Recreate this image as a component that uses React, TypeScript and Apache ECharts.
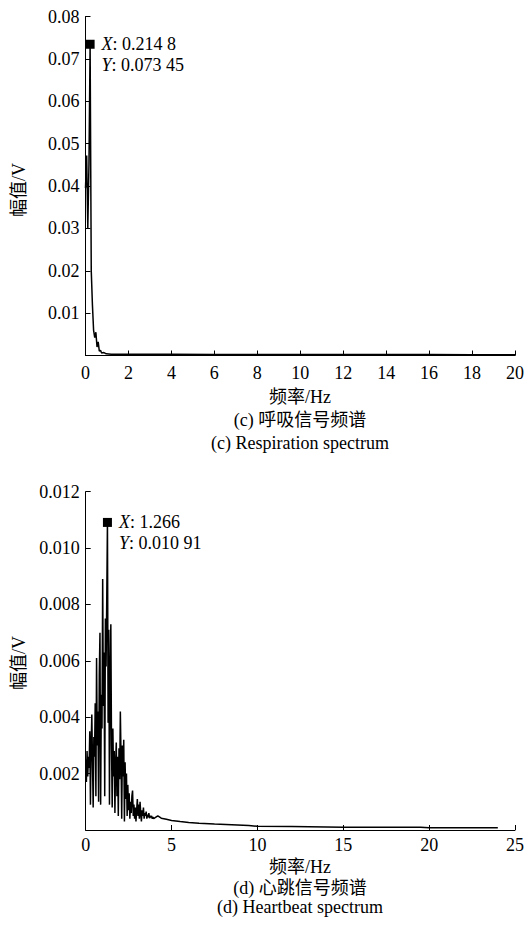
import React, { useEffect, useRef } from "react";
import * as echarts from "echarts";

// ---- Respiration spectrum (c) ----
const respFreq = [0, 0.054, 0.107, 0.161, 0.2148, 0.268, 0.322, 0.376, 0.43, 0.483, 0.537, 0.591, 0.644, 0.698, 0.752, 0.859, 0.967, 1.2, 2, 4, 6, 8, 10, 12, 14, 16, 18, 20];
const respAmp = [0.0395, 0.0472, 0.03, 0.045, 0.07345, 0.02, 0.012, 0.006, 0.0042, 0.0055, 0.002, 0.0032, 0.001, 0.0012, 0.0006, 0.0007, 0.0004, 0.0003, 0.0003, 0.00028, 0.00026, 0.00025, 0.00024, 0.00023, 0.00022, 0.00021, 0.0002, 0.0002];
const respPeak = [0.2148, 0.07345];
const respTip = ["0.214 8", "0.073 45"];

// ---- Heartbeat spectrum (d) ----
const heartStep = 0.03956; // frequency bin width (Hz)
const heartAmpLow = [
  0.0025, 0.0017, 0.0028, 0.0019, 0.0026, 0.0022, 0.0035, 0.0009, 0.003, 0.0041,
  0.0024, 0.0008, 0.0033, 0.0026, 0.0045, 0.0012, 0.0061, 0.003, 0.0042, 0.001,
  0.0055, 0.007, 0.0009, 0.0048, 0.0036, 0.0089, 0.0044, 0.0063, 0.0012, 0.0075,
  0.0058, 0.0082, 0.01091, 0.0038, 0.0071, 0.0009, 0.0054, 0.0073, 0.003, 0.0008,
  0.0036, 0.0019, 0.0028, 0.0006, 0.0023, 0.0031, 0.0012, 0.0026, 0.0005, 0.0029,
  0.0018, 0.0042, 0.0026, 0.0004, 0.003, 0.0019, 0.0032, 0.0003, 0.0024, 0.0011,
  0.002, 0.0005, 0.0016, 0.0007, 0.0013, 0.0004, 0.001, 0.0006, 0.0012, 0.0014,
  0.0005, 0.0009, 0.0004, 0.0008, 0.0003, 0.0007, 0.0011, 0.0005, 0.0009, 0.0004,
  0.001, 0.0006, 0.0003, 0.0007, 0.0005, 0.0008, 0.0004, 0.0006, 0.0005, 0.00065,
  0.0004, 0.00055, 0.00045, 0.0006, 0.00042, 0.0005, 0.00045, 0.0005, 0.0004, 0.00046,
  0.0004,
];
const heartTailFreq = [4.2, 4.4, 4.7, 5.0, 5.5, 6.0, 6.6, 7.5, 8.5, 9.5, 10.0, 12, 14, 15, 17, 19.5, 20, 24];
const heartTailAmp = [0.0005, 0.00042, 0.00038, 0.00034, 0.0003, 0.00027, 0.00024, 0.00021, 0.00019, 0.00016, 0.00013, 0.00012, 0.00011, 0.0001, 0.0001, 0.0001, 0.00008, 0.00008];
const heartPeak = [1.266, 0.01091];
const heartTip = ["1.266", "0.010 91"];

const FONT = "'Liberation Serif', 'Times New Roman', 'Noto Sans CJK SC', serif";

export default function App() {
  const ref = useRef<HTMLDivElement>(null);
  useEffect(() => {
    if (!ref.current) return;
    const chart = echarts.init(ref.current, undefined, { renderer: "svg" });
    const respData = respFreq.map((f, i) => [f, respAmp[i]]);
    const heartData = heartAmpLow
      .map((a, i) => [Number((i * heartStep).toFixed(4)), a])
      .concat(heartTailFreq.map((f, i) => [f, heartTailAmp[i]]));

    const axisCommon = {
      axisLine: { show: true, onZero: false, lineStyle: { color: "#000", width: 1 } },
      axisTick: { show: true, inside: true, length: 5, lineStyle: { color: "#000" } },
      splitLine: { show: false },
      axisLabel: { color: "#000", fontSize: 18, fontFamily: FONT },
    };

    const tip = (vals: string[]) => ({
      symbol: "rect",
      symbolSize: 9,
      itemStyle: { color: "#000" },
      label: {
        show: true,
        position: [16, -6],
        color: "#000",
        fontSize: 18,
        fontFamily: FONT,
        lineHeight: 21,
        formatter: `{i|X}: ${vals[0]}\n{i|Y}: ${vals[1]}`,
        rich: { i: { fontStyle: "italic", fontSize: 18, fontFamily: FONT, lineHeight: 21, color: "#000" } },
      },
    });

    const txt = (x: number, y: number, t: string, rot = 0) => ({
      type: "text",
      x,
      y,
      rotation: rot,
      style: { text: t, fill: "#000", fontSize: 18, fontFamily: FONT, align: "center", verticalAlign: "middle" },
    });

    chart.setOption({
      animation: false,
      grid: [
        { left: 85.5, top: 16.5, width: 432, height: 339 },
        { left: 85.7, top: 491.7, width: 432, height: 338.3 },
      ],
      xAxis: [
        { ...axisCommon, type: "value", gridIndex: 0, min: 0, max: 20, interval: 2, axisLabel: { ...axisCommon.axisLabel, margin: 8 } },
        { ...axisCommon, type: "value", gridIndex: 1, min: 0, max: 25, interval: 5, axisLabel: { ...axisCommon.axisLabel, margin: 6 } },
      ],
      yAxis: [
        {
          ...axisCommon, type: "value", gridIndex: 0, min: 0, max: 0.08, interval: 0.01,
          axisLabel: { ...axisCommon.axisLabel, margin: 6, formatter: (v: number) => (v === 0 ? "" : v.toFixed(2)) },
        },
        {
          ...axisCommon, type: "value", gridIndex: 1, min: 0, max: 0.012, interval: 0.002,
          axisLabel: { ...axisCommon.axisLabel, margin: 6, formatter: (v: number) => (v === 0 ? "" : v.toFixed(3)) },
        },
      ],
      series: [
        {
          type: "line", xAxisIndex: 0, yAxisIndex: 0, data: respData, showSymbol: false,
          lineStyle: { color: "#000", width: 1.5 },
          markPoint: { ...tip(respTip), data: [{ coord: respPeak }] },
        },
        {
          type: "line", xAxisIndex: 1, yAxisIndex: 1, data: heartData, showSymbol: false,
          lineStyle: { color: "#000", width: 1.5 },
          markPoint: { ...tip(heartTip), data: [{ coord: heartPeak }] },
        },
      ],
      graphic: [
        txt(19, 190, "幅值/V", Math.PI / 2),
        txt(300, 397, "频率/Hz"),
        txt(300, 420, "(c) 呼吸信号频谱"),
        txt(300, 443, "(c) Respiration spectrum"),
        txt(19, 663, "幅值/V", Math.PI / 2),
        txt(300, 867, "频率/Hz"),
        txt(300, 888, "(d) 心跳信号频谱"),
        txt(300, 907, "(d) Heartbeat spectrum"),
      ],
    });
    return () => chart.dispose();
  }, []);
  return (
    <div
      ref={ref}
      style={{ position: "fixed", left: 0, top: 0, width: 527, height: 926, background: "#fff" }}
    />
  );
}
